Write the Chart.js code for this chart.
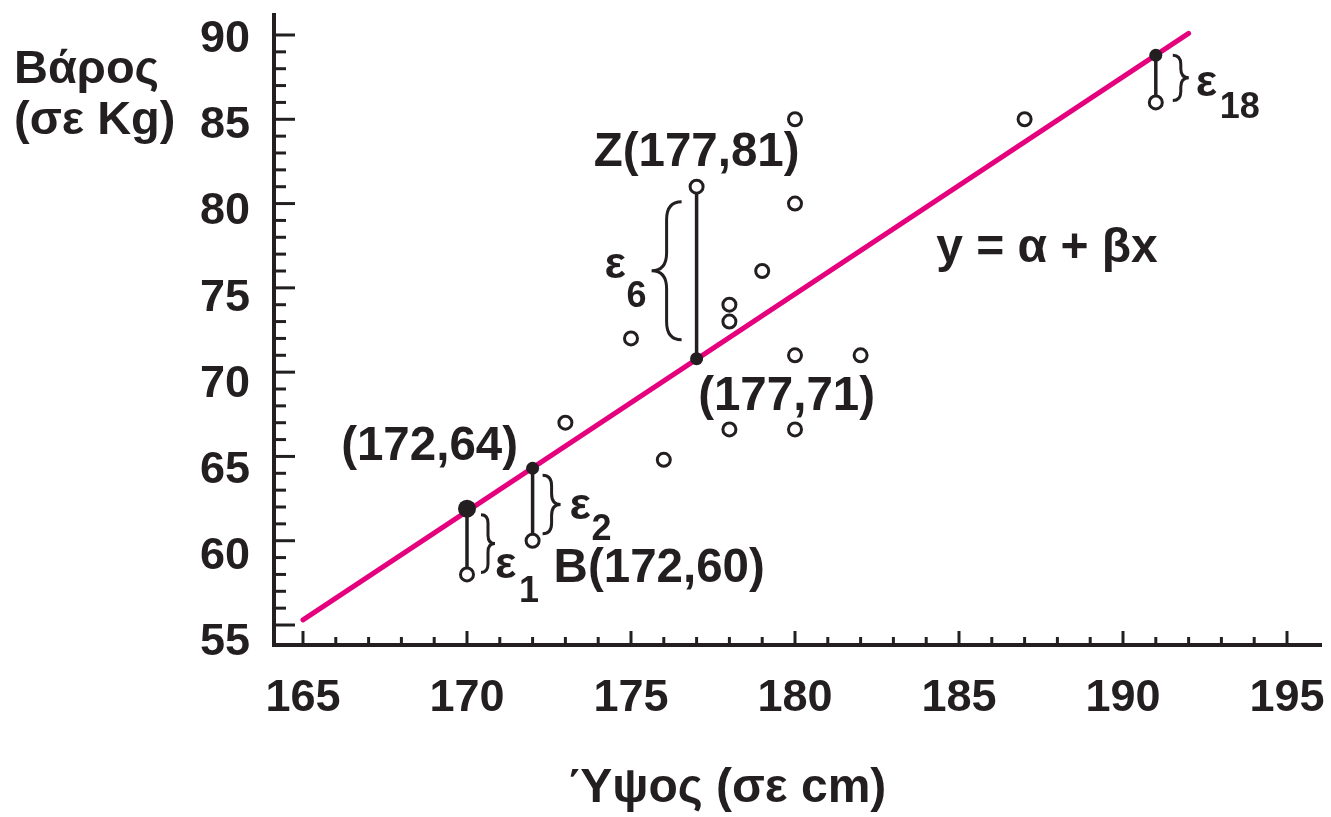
<!DOCTYPE html>
<html><head><meta charset="utf-8">
<script src="https://cdn.jsdelivr.net/npm/chart.js@4.4.1/dist/chart.umd.min.js"></script>
<style>html,body{margin:0;padding:0;background:#fff;}canvas{display:block;}</style>
</head><body>
<canvas id="c" width="1331" height="817"></canvas>
<script>
// ---- data ----
const heights = [170, 172, 173, 175, 176, 177, 178, 178, 178, 179, 180, 180, 180, 180, 182, 187, 191];
const weights = [58.0, 60.0, 67.0, 72.0, 64.8, 81.0, 74.0, 73.0, 66.6, 76.0, 85.0, 80.0, 71.0, 66.6, 71.0, 85.0, 86.0];
const residHeights = [170, 172, 177, 191];
const residObserved = [58.0, 60.0, 81.0, 86.0];
const residFitted = [61.9, 64.3, 70.8, 88.8];
const residSubscripts = ['1', '2', '6', '18'];
const lineX = [165, 192];
const lineY = [55.3, 90.1];
const xTickLabels = [165, 170, 175, 180, 185, 190, 195];
const yTickLabels = [55, 60, 65, 70, 75, 80, 85, 90];
const xTitle = 'Ύψος (σε cm)';
const yTitle = ['Βάρος', '(σε Kg)'];
const equation = 'y = α + βx';
const pointLabelTexts = ['(172,64)', 'B(172,60)', 'Z(177,81)', '(177,71)'];
const pointLabelX = [172, 172, 177, 177];
const pointLabelY = [64.3, 60.0, 81.0, 70.8];

// ---- styles ----
const INK = '#231f20';
const MAGENTA = '#e5007e';
const FONT = '"Liberation Sans", Arial, sans-serif';

// label placement (pixel offsets from anchor, alignment)
const pointLabelPlacement = [
  {dx: -103, dy: -8, align: 'center'},
  {dx: 21, dy: 41, align: 'left'},
  {dx: 0, dy: -21, align: 'center'},
  {dx: 90, dy: 51, align: 'center'}
];
// brace / epsilon placement per residual
const residPlacement = [
  {side: 1, bx: 14, bw: 14, inTop: 6, inBot: 2, ex: 28, ey: 36, sx: 24, sy: 24},
  {side: 1, bx: 10, bw: 18, inTop: 7, inBot: 7, ex: 37, ey: 15, sx: 22, sy: 21},
  {side: -1, bx: 15, bw: 30, inTop: 15, inBot: 19, ex: -92, ey: 5, sx: 22, sy: 29},
  {side: 1, bx: 17, bw: 16, inTop: 0, inBot: 2, ex: 40, ey: 17, sx: 24, sy: 22}
];

function brace(ctx, xBase, y1, y2, w, dir) {
  const ym = (y1 + y2) / 2;
  const xm = xBase + dir * w / 2;
  const xt = xBase + dir * w;
  const r = Math.min(w * 0.6, (ym - y1) * 0.4);
  ctx.beginPath();
  ctx.moveTo(xBase, y1);
  ctx.quadraticCurveTo(xm, y1, xm, y1 + r);
  ctx.lineTo(xm, ym - r);
  ctx.quadraticCurveTo(xm, ym, xt, ym);
  ctx.quadraticCurveTo(xm, ym, xm, ym + r);
  ctx.lineTo(xm, y2 - r);
  ctx.quadraticCurveTo(xm, y2, xBase, y2);
  ctx.stroke();
}

function noPad(s) { s.paddingTop = 0; s.paddingBottom = 0; s.paddingLeft = 0; s.paddingRight = 0; }

const decor = {
  id: 'decor',
  beforeDatasetsDraw(chart) {
    const ctx = chart.ctx, a = chart.chartArea;
    const xs = chart.scales.x, ys = chart.scales.y;
    ctx.save();
    ctx.strokeStyle = INK;
    ctx.lineCap = 'butt';
    ctx.lineWidth = 3;
    for (let v = yTickLabels[0]; v <= yTickLabels[yTickLabels.length - 1]; v++) {
      const py = ys.getPixelForValue(v);
      const len = (v % 5 === 0) ? 21 : 12;
      ctx.beginPath(); ctx.moveTo(a.left, py); ctx.lineTo(a.left + len, py); ctx.stroke();
    }
    for (let v = xTickLabels[0]; v <= xTickLabels[xTickLabels.length - 1]; v++) {
      const px = xs.getPixelForValue(v);
      const len = (v % 5 === 0) ? 14 : 8;
      ctx.beginPath(); ctx.moveTo(px, a.bottom); ctx.lineTo(px, a.bottom - len); ctx.stroke();
    }
    ctx.lineWidth = 4;
    ctx.lineCap = 'square';
    ctx.beginPath();
    ctx.moveTo(a.left, a.top); ctx.lineTo(a.left, a.bottom); ctx.lineTo(a.right, a.bottom);
    ctx.stroke();
    ctx.restore();
  },
  afterDatasetsDraw(chart) {
    const ctx = chart.ctx;
    const xs = chart.scales.x, ys = chart.scales.y;
    ctx.save();
    ctx.fillStyle = INK;
    ctx.strokeStyle = INK;
    ctx.textBaseline = 'alphabetic';
    residHeights.forEach((h, i) => {
      const p = residPlacement[i];
      const px = xs.getPixelForValue(h);
      const pObs = ys.getPixelForValue(residObserved[i]);
      const pFit = ys.getPixelForValue(residFitted[i]);
      const top = Math.min(pObs, pFit), bot = Math.max(pObs, pFit);
      ctx.lineWidth = 3;
      brace(ctx, px + p.side * p.bx, top + p.inTop, bot - p.inBot, p.bw, p.side);
      const mid = (pObs + pFit) / 2;
      ctx.textAlign = 'left';
      ctx.font = 'bold 45px ' + FONT;
      ctx.fillText('ε', px + p.ex, mid + p.ey);
      ctx.font = 'bold 36px ' + FONT;
      ctx.fillText(residSubscripts[i], px + p.ex + p.sx, mid + p.ey + p.sy);
    });
    ctx.font = 'bold 47.5px ' + FONT;
    pointLabelTexts.forEach((t, i) => {
      const p = pointLabelPlacement[i];
      ctx.textAlign = p.align;
      ctx.fillText(t, xs.getPixelForValue(pointLabelX[i]) + p.dx, ys.getPixelForValue(pointLabelY[i]) + p.dy);
    });
    ctx.font = 'bold 48px ' + FONT;
    ctx.textAlign = 'center';
    ctx.fillText(equation, 1047, 262);
    ctx.fillText(xTitle, 727, 802);
    ctx.font = 'bold 47px ' + FONT;
    ctx.textAlign = 'left';
    ctx.fillText(yTitle[0], 14, 83);
    ctx.fillText(yTitle[1], 14, 134);
    ctx.restore();
  }
};

const obsData = heights.map((h, i) => ({x: h, y: weights[i]}));
const fitData = residHeights.map((h, i) => ({x: h, y: residFitted[i]}));
const fitRadius = residHeights.map((h, i) => i === 0 ? 9 : 6.5);
const segmentSets = residHeights.map((h, i) => ({
  type: 'scatter', showLine: true, order: 2,
  data: [{x: h, y: residObserved[i]}, {x: h, y: residFitted[i]}],
  borderColor: INK, borderWidth: 3.5, pointRadius: 0
}));

new Chart(document.getElementById('c'), {
  type: 'scatter',
  data: {
    datasets: [
      {data: fitData, order: 0, pointRadius: fitRadius, pointBackgroundColor: INK, pointBorderColor: INK, pointBorderWidth: 0},
      {data: obsData, order: 1, pointRadius: 6.5, pointBorderWidth: 3, pointBackgroundColor: '#fff', pointBorderColor: INK},
      ...segmentSets,
      {type: 'scatter', showLine: true, order: 3, data: lineX.map((x, i) => ({x: x, y: lineY[i]})),
       borderColor: MAGENTA, borderWidth: 5, pointRadius: 0, borderCapStyle: 'round'}
    ]
  },
  options: {
    responsive: false,
    animation: false,
    devicePixelRatio: 1,
    layout: {padding: {top: 15, right: 11, left: 0, bottom: 0}},
    plugins: {legend: {display: false}, tooltip: {enabled: false}},
    scales: {
      x: {
        type: 'linear', min: 164.116, max: 196.006,
        grid: {display: false, drawTicks: false, tickLength: 0},
        border: {display: false},
        ticks: {color: INK, font: {family: FONT, size: 45, weight: 'bold'}, padding: 27, maxRotation: 0, autoSkip: false},
        afterBuildTicks: s => { s.ticks = xTickLabels.map(v => ({value: v})); },
        afterFit: s => { s.height = 172; noPad(s); }
      },
      y: {type: 'linear', display: false, min: 53.814, max: 91.186},
      yLab: {
        type: 'linear', position: 'left', min: 54.884, max: 91.42,
        grid: {display: false, drawTicks: false, tickLength: 0},
        border: {display: false},
        ticks: {color: INK, font: {family: FONT, size: 45, weight: 'bold'}, padding: 24, autoSkip: false},
        afterBuildTicks: s => { s.ticks = yTickLabels.map(v => ({value: v})); },
        afterFit: s => { s.width = 274; noPad(s); }
      }
    }
  },
  plugins: [decor]
});
</script>
</body></html>
